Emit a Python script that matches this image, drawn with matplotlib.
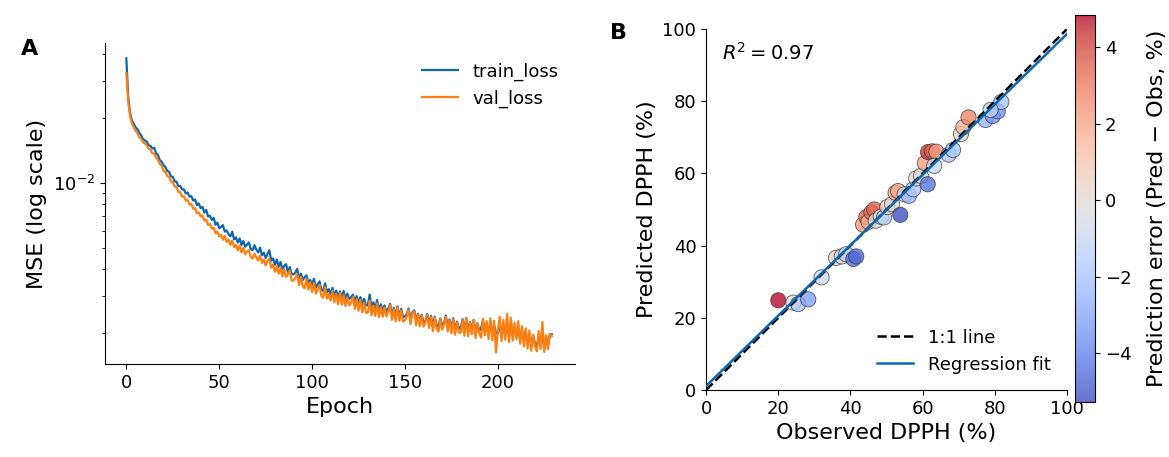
import numpy as np
import matplotlib
matplotlib.use("Agg")
import matplotlib.pyplot as plt
from matplotlib.ticker import NullFormatter

# ---- panel A: training curves (MSE, in units of 1e-4) ----
epochs = np.arange(230)
train_loss = np.array([
    381, 252, 212, 196, 189, 182, 178, 171, 167, 160,
    158, 156, 150, 149, 145, 146, 138, 135, 128, 126,
    121, 119, 114, 113, 107.5, 107, 102, 101.5, 97, 97,
    93.5, 93.5, 89.5, 90.5, 86.5, 87, 83, 84, 79, 80.5,
    76.5, 77.5, 73, 75, 70, 70.5, 67.5, 69, 64, 65.5,
    61.8, 62.5, 63.8, 59.5, 60.2, 57.8, 56.6, 59.4, 54.8, 55.9,
    52.9, 55.3, 51.6, 53.8, 50.6, 51.8, 53.0, 49.3, 48.8, 51.4,
    49.0, 47.6, 50.1, 46.2, 47.5, 44.9, 46.8, 48.7, 43.6, 44.6,
    41.7, 44.1, 40.8, 43.0, 39.8, 41.2, 42.0, 38.6, 40.7, 37.8,
    37.6, 38.4, 39.9, 36.0, 37.9, 35.4, 36.6, 37.2, 34.4, 35.4,
    33.6, 35.9, 32.7, 33.8, 34.9, 32.0, 31.5, 34.2, 31.0, 32.1,
    30.4, 32.6, 29.9, 31.6, 29.2, 31.4, 29.1, 31.5, 28.8, 30.6,
    28.9, 29.5, 30.3, 27.9, 29.8, 27.5, 29.5, 27.1, 29.0, 27.0,
    27.0, 30.3, 26.3, 27.9, 25.9, 28.6, 25.5, 27.3, 25.4, 27.0,
    25.2, 26.0, 27.4, 24.4, 26.3, 24.1, 26.7, 24.0, 26.0, 23.8,
    24.0, 24.6, 26.1, 23.1, 25.0, 25.6, 22.8, 24.7, 22.6, 24.4,
    22.5, 22.8, 24.6, 22.1, 24.1, 21.5, 23.9, 21.9, 21.4, 23.5,
    21.8, 22.3, 24.2, 21.3, 23.2, 21.0, 23.5, 20.7, 22.7, 21.2,
    21.0, 23.3, 20.5, 23.6, 20.3, 22.6, 20.8, 23.1, 20.1, 22.3,
    20.6, 21.2, 23.0, 20.4, 22.2, 19.9, 22.5, 19.7, 21.9, 20.1,
    20.0, 22.1, 19.3, 21.6, 19.6, 22.7, 19.2, 22.3, 19.4, 21.1,
    19.3, 21.4, 18.8, 20.6, 18.2, 20.2, 17.9, 19.9, 17.4, 19.5,
    18.0, 17.1, 19.7, 17.6, 20.0, 17.0, 19.1, 17.5, 19.6, 19.8,
]) * 1e-4
val_loss = np.array([
    325, 240, 205, 190, 182, 175, 171, 163, 161, 155,
    153, 150, 145, 143, 138, 137, 131, 129, 123, 121,
    114, 113, 108, 107, 102, 101, 96.5, 96, 91, 91,
    86.5, 87, 83, 83.5, 79.5, 80, 76, 76.5, 72.5, 73,
    70, 70.5, 67, 67.5, 64, 64.5, 61.5, 62, 58.5, 59.5,
    56.5, 57.6, 54.5, 56.9, 53.2, 54.6, 51.6, 54.0, 50.4, 51.6,
    48.7, 51.3, 47.6, 49.9, 46.7, 48.0, 48.8, 45.3, 44.6, 47.0,
    45.0, 43.6, 46.0, 42.6, 44.1, 41.4, 43.6, 44.5, 40.4, 41.8,
    38.7, 41.1, 37.9, 40.4, 36.8, 39.9, 36.6, 37.7, 39.2, 35.1,
    35.2, 36.2, 37.8, 33.5, 36.6, 33.1, 32.4, 35.9, 32.0, 34.6,
    31.2, 34.4, 30.6, 31.9, 33.6, 29.9, 29.3, 32.8, 29.0, 30.5,
    28.4, 31.6, 27.9, 30.5, 27.3, 30.9, 27.2, 30.2, 26.8, 29.4,
    27.0, 27.8, 29.6, 26.0, 28.9, 25.5, 28.6, 25.1, 27.8, 24.9,
    25.0, 28.4, 24.3, 26.9, 24.1, 27.6, 23.8, 26.5, 23.9, 26.4,
    24.0, 25.1, 27.0, 23.1, 25.9, 22.8, 26.4, 22.9, 25.6, 22.7,
    23.0, 24.0, 25.8, 22.1, 24.7, 25.3, 21.8, 24.5, 21.6, 24.2,
    21.5, 22.4, 24.3, 21.2, 23.8, 20.5, 23.7, 21.0, 20.4, 23.4,
    20.8, 21.9, 23.9, 20.4, 23.0, 20.0, 23.3, 19.7, 22.5, 20.2,
    20.1, 23.1, 19.5, 23.6, 19.4, 22.6, 19.8, 23.1, 19.0, 22.2,
    20.0, 19.1, 23.4, 19.6, 22.8, 18.8, 23.5, 18.6, 22.9, 16.3,
    20.6, 23.9, 18.4, 23.1, 18.7, 24.6, 18.2, 23.6, 18.5, 22.4,
    18.8, 22.8, 17.9, 21.6, 17.4, 21.1, 17.0, 20.6, 16.6, 19.7,
    17.4, 16.5, 20.5, 16.9, 22.6, 16.4, 19.6, 16.9, 19.9, 19.4,
]) * 1e-4

# ---- panel B: observed vs predicted DPPH (%) ----
obs = np.array([20.0, 24.2, 25.5, 28.3, 32.0, 36.0, 37.6, 38.8, 40.8, 41.6,
                43.5, 44.4, 45.0, 45.8, 46.6, 47.0, 48.4, 49.3, 50.2, 51.5,
                52.5, 53.2, 53.8, 55.0, 56.2, 57.4, 58.2, 59.5, 61.4, 60.6,
                61.5, 62.6, 63.8, 63.2, 67.2, 68.4, 70.6, 71.3, 72.7, 77.4,
                79.4, 80.8, 81.8, 78.8])
pred = np.array([24.84, 24.2, 23.8, 25.1, 31.2, 36.6, 37.0, 37.6, 36.3, 37.0,
                 45.8, 47.9, 46.6, 49.2, 50.0, 46.9, 48.0, 47.8, 50.7, 51.5,
                 54.6, 55.1, 48.52, 54.2, 53.8, 55.6, 58.6, 59.3, 57.0, 62.8,
                 65.9, 66.1, 66.0, 62.1, 65.2, 66.5, 70.9, 72.8, 75.5, 74.8,
                 75.9, 77.2, 79.8, 77.6])
err = pred - obs
r2_text = "$R^2 = 0.97$"

blue = "#0d66b0"
orange = "#ff7f0e"

plt.rcParams["font.family"] = "DejaVu Sans"
plt.rcParams["font.size"] = 13

fig = plt.figure(figsize=(11.69, 4.57), dpi=100)

# panel A
axA = fig.add_axes([0.0898, 0.2035, 0.402, 0.7024])
axA.plot(epochs, train_loss, color=blue, lw=1.6, label="train_loss")
axA.plot(epochs, val_loss, color=orange, lw=1.6, label="val_loss")
axA.set_yscale("log")
axA.set_ylim(0.00144, 0.0449)
axA.set_xlim(-11.5, 241.5)
axA.yaxis.set_minor_formatter(NullFormatter())
axA.set_xlabel("Epoch", fontsize=16)
axA.set_ylabel("MSE (log scale)", fontsize=16)
axA.spines["top"].set_visible(False)
axA.spines["right"].set_visible(False)
axA.tick_params(labelsize=13)
axA.legend(frameon=False, loc="upper right", bbox_to_anchor=(1.0, 0.99),
           fontsize=13, handlelength=2.0)
fig.text(0.018, 0.88, "A", fontsize=16, fontweight="bold")

# panel B
axB = fig.add_axes([0.604, 0.1466, 0.3088, 0.79])
sc = axB.scatter(obs, pred, c=err, cmap="coolwarm", s=120, alpha=0.78,
                 edgecolors="#333333", linewidths=0.6, zorder=2)
xs = np.array([0, 100])
axB.plot(xs, xs, "k--", lw=1.8, label="1:1 line", zorder=3)
slope, icpt = np.polyfit(obs, pred, 1)
axB.plot(xs, slope * xs + icpt, color=blue, lw=1.8, label="Regression fit", zorder=3)
axB.set_xlim(0, 100)
axB.set_ylim(0, 100)
axB.set_xlabel("Observed DPPH (%)", fontsize=16)
axB.set_ylabel("Predicted DPPH (%)", fontsize=16)
axB.spines["top"].set_visible(False)
axB.spines["right"].set_visible(False)
axB.tick_params(labelsize=13)
axB.text(0.045, 0.935, r2_text, transform=axB.transAxes, fontsize=14, va="center")
axB.legend(frameon=False, loc="lower right", fontsize=13)
fig.text(0.522, 0.915, "B", fontsize=16, fontweight="bold")

cax = fig.add_axes([0.9196, 0.1204, 0.0171, 0.847])
cb = fig.colorbar(sc, cax=cax)
cb.set_ticks([-4, -2, 0, 2, 4])
cb.set_label("Prediction error (Pred \u2212 Obs, %)", fontsize=16, labelpad=11)
cb.ax.tick_params(labelsize=13)

fig.savefig("out.png", dpi=100)
